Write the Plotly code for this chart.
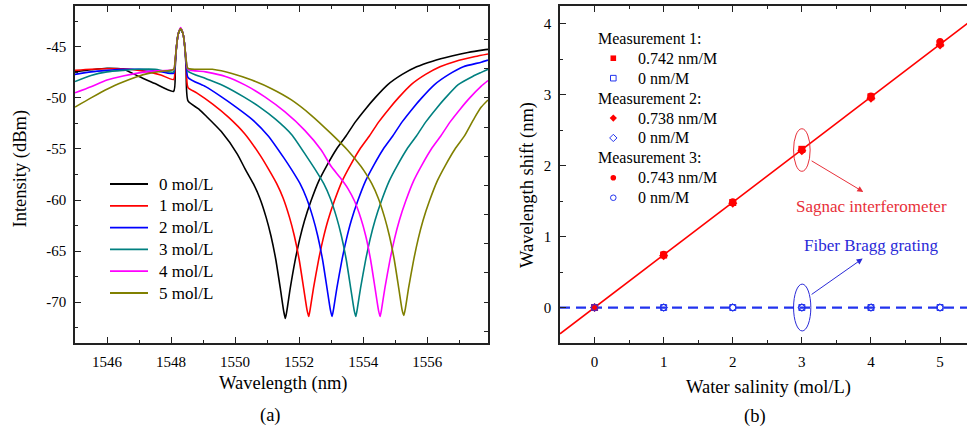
import plotly.graph_objects as go

FONT = "Liberation Serif, Times New Roman, serif"

# ---------------- (a) transmission spectra ----------------
wl_0 = [1545.0, 1545.5, 1546.0, 1546.5, 1547.0, 1547.5, 1548.08, 1548.13, 1548.17, 1548.22,
        1548.30, 1548.38, 1548.43, 1548.47, 1548.53, 1548.87, 1549.07, 1549.57, 1550.07, 1550.32,
        1550.57, 1550.77, 1550.97, 1551.12, 1551.27, 1551.42, 1551.52, 1551.57, 1551.62, 1551.72,
        1551.87, 1552.02, 1552.17, 1552.37, 1552.62, 1552.87, 1553.17, 1553.47, 1553.77, 1554.07,
        1554.37, 1554.77, 1555.22, 1555.67, 1556.17, 1556.77, 1557.27, 1557.77, 1557.9]
db_0 = [-47.45, -47.25, -47.1, -47.2, -47.9, -48.6, -49.35, -47.0, -45.0, -43.8,
        -43.2, -43.8, -45.0, -47.0, -50.3, -51.1, -51.7, -53.3, -55.5, -57.0,
        -58.4, -59.8, -61.7, -63.5, -65.8, -68.8, -70.9, -71.6, -70.8, -68.7,
        -66.0, -63.8, -62.0, -60.1, -58.1, -56.6, -55.0, -53.7, -52.3, -51.1,
        -50.0, -48.7, -47.7, -46.95, -46.4, -45.9, -45.55, -45.3, -45.25]

wl_1 = [1545.0, 1545.5, 1546.0, 1546.5, 1547.0, 1547.3, 1547.68, 1548.08, 1548.13, 1548.17,
        1548.22, 1548.30, 1548.38, 1548.43, 1548.47, 1548.53, 1548.8, 1549.3, 1549.8, 1550.3,
        1550.8, 1551.05, 1551.3, 1551.5, 1551.7, 1551.85, 1552.0, 1552.15, 1552.25, 1552.30,
        1552.35, 1552.45, 1552.6, 1552.75, 1552.9, 1553.1, 1553.35, 1553.6, 1553.9, 1554.2,
        1554.5, 1554.8, 1555.1, 1555.5, 1555.95, 1556.4, 1556.9, 1557.5, 1557.9]
db_1 = [-47.3, -47.2, -47.15, -47.15, -47.3, -47.45, -47.75, -48.2, -46.5, -45.0,
        -43.8, -43.2, -43.8, -45.0, -46.5, -49.0, -49.5, -50.6, -51.9, -53.5,
        -55.7, -57.0, -58.4, -59.8, -61.7, -63.5, -65.8, -68.8, -70.8, -71.4,
        -70.6, -68.6, -66.0, -63.8, -62.0, -60.1, -58.1, -56.6, -55.0, -53.7,
        -52.3, -51.1, -50.0, -48.7, -47.7, -46.95, -46.4, -45.95, -45.7]

wl_2 = [1545.0, 1545.5, 1546.0, 1546.5, 1547.0, 1547.5, 1548.08, 1548.13, 1548.17, 1548.22,
        1548.30, 1548.38, 1548.43, 1548.47, 1548.53, 1549.08, 1549.53, 1550.03, 1550.53, 1551.03,
        1551.53, 1551.78, 1552.03, 1552.23, 1552.43, 1552.58, 1552.73, 1552.88, 1552.98, 1553.03,
        1553.08, 1553.18, 1553.33, 1553.48, 1553.63, 1553.83, 1554.08, 1554.33, 1554.63, 1554.93,
        1555.23, 1555.53, 1555.83, 1556.23, 1556.68, 1557.13, 1557.69, 1557.9]
db_2 = [-47.7, -47.45, -47.3, -47.2, -47.2, -47.3, -47.6, -46.5, -45.0, -43.8,
        -43.2, -43.8, -45.0, -46.5, -48.0, -48.9, -49.8, -50.9, -52.1, -53.7,
        -55.9, -57.1, -58.4, -59.8, -61.7, -63.5, -65.8, -68.8, -70.8, -71.4,
        -70.6, -68.6, -66.0, -63.8, -62.0, -60.1, -58.1, -56.6, -55.0, -53.7,
        -52.3, -51.1, -50.0, -48.7, -47.7, -46.95, -46.5, -46.3]

wl_3 = [1545.0, 1545.5, 1546.0, 1546.5, 1547.0, 1547.5, 1548.08, 1548.13, 1548.17, 1548.22,
        1548.30, 1548.38, 1548.43, 1548.47, 1548.53, 1549.08, 1549.7, 1550.27, 1550.77, 1551.27,
        1551.77, 1552.27, 1552.52, 1552.77, 1552.97, 1553.17, 1553.32, 1553.47, 1553.62, 1553.72,
        1553.77, 1553.82, 1553.92, 1554.07, 1554.22, 1554.37, 1554.57, 1554.82, 1555.07, 1555.37,
        1555.67, 1555.97, 1556.27, 1556.57, 1556.97, 1557.42, 1557.69, 1557.9]
db_3 = [-48.4, -47.8, -47.45, -47.3, -47.2, -47.2, -47.45, -46.3, -45.0, -43.8,
        -43.2, -43.8, -45.0, -46.3, -47.4, -48.1, -48.9, -49.9, -50.9, -52.1,
        -53.6, -55.9, -57.1, -58.4, -59.8, -61.7, -63.5, -65.8, -68.8, -70.8,
        -71.4, -70.6, -68.6, -66.0, -63.8, -62.0, -60.1, -58.1, -56.6, -55.0,
        -53.7, -52.3, -51.1, -50.0, -48.7, -47.9, -47.5, -47.2]

wl_4 = [1545.0, 1545.5, 1546.0, 1546.5, 1547.0, 1547.5, 1548.08, 1548.13, 1548.17, 1548.22,
        1548.30, 1548.38, 1548.43, 1548.47, 1548.53, 1549.08, 1549.7, 1550.32, 1550.93, 1551.55,
        1552.17, 1552.69, 1553.0, 1553.28, 1553.53, 1553.73, 1553.93, 1554.08, 1554.23, 1554.38,
        1554.48, 1554.53, 1554.58, 1554.68, 1554.83, 1554.98, 1555.13, 1555.33, 1555.58, 1555.83,
        1556.13, 1556.43, 1556.73, 1557.03, 1557.33, 1557.69, 1557.9]
db_4 = [-49.5, -48.9, -48.25, -47.85, -47.55, -47.35, -47.2, -46.2, -45.0, -43.8,
        -43.1, -43.8, -45.0, -46.2, -47.2, -47.45, -47.9, -48.75, -49.9, -51.35,
        -53.15, -55.1, -56.7, -57.8, -58.9, -60.1, -61.8, -63.5, -65.8, -68.8,
        -70.8, -71.4, -70.6, -68.6, -66.0, -63.8, -62.0, -60.1, -58.1, -56.6,
        -55.0, -53.7, -52.3, -51.1, -50.0, -48.85, -48.3]

wl_5 = [1545.0, 1545.5, 1546.03, 1546.5, 1546.96, 1547.3, 1547.68, 1548.08, 1548.13, 1548.17,
        1548.22, 1548.30, 1548.38, 1548.43, 1548.47, 1548.53, 1549.29, 1549.9, 1550.52, 1551.14,
        1551.76, 1552.38, 1553.0, 1553.51, 1553.93, 1554.02, 1554.27, 1554.47, 1554.67, 1554.82,
        1554.97, 1555.12, 1555.22, 1555.27, 1555.32, 1555.42, 1555.57, 1555.72, 1555.87, 1556.07,
        1556.32, 1556.57, 1556.87, 1557.17, 1557.47, 1557.69, 1557.9]
db_5 = [-50.9, -50.0, -49.1, -48.45, -47.9, -47.6, -47.4, -47.2, -46.2, -45.0,
        -43.8, -43.2, -43.8, -45.0, -46.2, -47.1, -47.2, -47.6, -48.25, -49.1,
        -50.2, -51.7, -53.5, -55.1, -56.7, -57.1, -58.4, -59.8, -61.7, -63.5,
        -65.8, -68.8, -70.8, -71.3, -70.6, -68.6, -66.0, -63.8, -62.0, -60.1,
        -58.1, -56.6, -55.0, -53.7, -52.0, -50.9, -50.2]

spectra_wl = [wl_0, wl_1, wl_2, wl_3, wl_4, wl_5]
spectra_db = [db_0, db_1, db_2, db_3, db_4, db_5]
salinity_labels = ["0 mol/L", "1 mol/L", "2 mol/L", "3 mol/L", "4 mol/L", "5 mol/L"]
spectrum_colors = ["#000000", "#ff0000", "#0000ff", "#008080", "#ff00ff", "#808000"]

# ---------------- (b) wavelength shift vs salinity ----------------
salinity = [0, 1, 2, 3, 4, 5]
sagnac_m1 = [0.0, 0.74, 1.48, 2.23, 2.97, 3.72]
sagnac_m2 = [0.0, 0.73, 1.47, 2.21, 2.95, 3.70]
sagnac_m3 = [0.0, 0.75, 1.49, 2.22, 2.98, 3.75]
fbg_m1 = [0, 0, 0, 0, 0, 0]
fbg_m2 = [0, 0, 0, 0, 0, 0]
fbg_m3 = [0, 0, 0, 0, 0, 0]
sagnac_fit_x = [-0.5, 5.5]
sagnac_fit_y = [-0.37, 4.08]
fbg_fit_x = [-0.5, 5.5]
fbg_fit_y = [0, 0]
group_titles = ["Measurement 1:", "Measurement 2:", "Measurement 3:"]
sagnac_slopes = ["0.742 nm/M", "0.738 nm/M", "0.743 nm/M"]
fbg_slopes = ["0 nm/M", "0 nm/M", "0 nm/M"]
marker_shapes = ["square", "diamond", "circle"]

RED = "#ff0000"
BLUE = "#2233ee"
ANN_RED = "#e8303a"
ANN_BLUE = "#2a2ad8"

W, PLOT_TOP, PLOT_BOTTOM = 967, 6, 343


def px_x(x):
    return x / W


def px_y(y):
    return (PLOT_BOTTOM - y) / (PLOT_BOTTOM - PLOT_TOP)


fig = go.Figure()

for wl, db, name, col in zip(spectra_wl, spectra_db, salinity_labels, spectrum_colors):
    fig.add_trace(go.Scatter(x=wl, y=db, mode="lines", name=name, showlegend=False,
                             line=dict(color=col, width=1.6, shape="spline", smoothing=0.6),
                             xaxis="x", yaxis="y"))

# right-hand tick marks of panel (a)
fig.add_trace(go.Scatter(x=[], y=[], xaxis="x", yaxis="y3", showlegend=False))

# fitted lines
fig.add_trace(go.Scatter(x=sagnac_fit_x, y=sagnac_fit_y, mode="lines", showlegend=False,
                         line=dict(color=RED, width=1.6), xaxis="x2", yaxis="y2"))
fig.add_trace(go.Scatter(x=fbg_fit_x, y=fbg_fit_y, mode="lines", showlegend=False,
                         line=dict(color=BLUE, width=2.2, dash="10px,6px"),
                         xaxis="x2", yaxis="y2"))

sagnac_sets = [sagnac_m1, sagnac_m2, sagnac_m3]
fbg_sets = [fbg_m1, fbg_m2, fbg_m3]
for i in range(3):
    fig.add_trace(go.Scatter(x=salinity, y=sagnac_sets[i], mode="markers",
                             name=sagnac_slopes[i], showlegend=False,
                             marker=dict(symbol=marker_shapes[i], size=7, color=RED,
                                         line=dict(width=0)),
                             xaxis="x2", yaxis="y2"))
    fig.add_trace(go.Scatter(x=salinity, y=fbg_sets[i], mode="markers",
                             name=fbg_slopes[i], showlegend=False,
                             marker=dict(symbol=marker_shapes[i] + "-open", size=6,
                                         color=BLUE, line=dict(width=1)),
                             xaxis="x2", yaxis="y2"))

axis_common = dict(showgrid=False, zeroline=False, showline=True, linecolor="#222222",
                   linewidth=1.5, ticks="inside", ticklen=6, tickwidth=1.2,
                   tickcolor="#222222", tickfont=dict(size=15, family=FONT),
                   ticklabelstandoff=4)

fig.update_layout(
    width=W, height=429,
    margin=dict(l=0, r=0, t=PLOT_TOP, b=429 - PLOT_BOTTOM),
    paper_bgcolor="white", plot_bgcolor="white",
    font=dict(family=FONT, size=15, color="black"),
    showlegend=False,
    xaxis=dict(domain=[75 / W, 488 / W], range=[1545, 1557.9], anchor="y",
               tick0=1546, dtick=2, mirror="ticks",
               minor=dict(dtick=1, ticks="inside", ticklen=3, tickcolor="#222222"),
               **axis_common),
    yaxis=dict(domain=[0, 1], range=[-74, -41], anchor="x",
               tickvals=[-70, -65, -60, -55, -50, -45],
               ticktext=["-70", "-65", "-60", "-55", "-50", "-45"], mirror=True,
               minor=dict(tick0=-45, dtick=2.5, ticks="inside", ticklen=3,
                          tickcolor="#222222"),
               **axis_common),
    yaxis3=dict(overlaying="y", anchor="x", side="right", range=[-74, -41],
                showgrid=False, zeroline=False, showline=False, showticklabels=False,
                ticks="inside", ticklen=4, tickwidth=1.2, tickcolor="#222222",
                tickvals=[-44.29, -47.14, -50.0, -52.86, -55.71, -58.57, -61.43,
                          -64.29, -67.14, -70.0, -72.86]),
    xaxis2=dict(domain=[560 / W, 1.0], range=[-0.5, 5.39], anchor="y2",
                tick0=0, dtick=1, mirror="ticks",
                minor=dict(dtick=0.5, ticks="inside", ticklen=3, tickcolor="#222222"),
                **axis_common),
    yaxis2=dict(domain=[0, 1], range=[-0.5, 4.25], anchor="x2", tick0=0, dtick=1,
                mirror=False,
                minor=dict(dtick=0.5, ticks="inside", ticklen=3, tickcolor="#222222"),
                **axis_common),
)

annotations = [
    dict(text="Intensity (dBm)", x=px_x(20), y=px_y(168.5), textangle=-90, font=dict(size=18.5)),
    dict(text="Wavelength (nm)", x=px_x(282.5), y=px_y(383), font=dict(size=18.5)),
    dict(text="(a)", x=px_x(270), y=px_y(415), font=dict(size=18.5)),
    dict(text="Wavelength shift (nm)", x=px_x(527), y=px_y(185), textangle=-90,
         font=dict(size=18.5)),
    dict(text="Water salinity (mol/L)", x=px_x(768), y=px_y(387), font=dict(size=18.5)),
    dict(text="(b)", x=px_x(755), y=px_y(416.5), font=dict(size=18.5)),
]
for a in annotations:
    a.update(xref="paper", yref="paper", showarrow=False, xanchor="center", yanchor="middle")

annotations += [
    dict(text="Sagnac interferometer", x=4.01, y=1.42, xref="x2", yref="y2",
         showarrow=False, font=dict(size=17, color=ANN_RED)),
    dict(text="Fiber Bragg grating", x=4.01, y=0.88, xref="x2", yref="y2",
         showarrow=False, font=dict(size=17, color=ANN_BLUE)),
    dict(text="", x=3.89, y=1.63, ax=3.12, ay=2.08, xref="x2", yref="y2",
         axref="x2", ayref="y2", showarrow=True, arrowhead=2, arrowsize=1.2,
         arrowwidth=1, arrowcolor=ANN_RED),
    dict(text="", x=3.88, y=0.69, ax=3.12, ay=0.17, xref="x2", yref="y2",
         axref="x2", ayref="y2", showarrow=True, arrowhead=2, arrowsize=1.2,
         arrowwidth=1, arrowcolor=ANN_BLUE),
]

shapes = [
    dict(type="circle", xref="x2", yref="y2", x0=2.88, x1=3.12, y0=1.92, y1=2.52,
         line=dict(color=ANN_RED, width=1)),
    dict(type="circle", xref="x2", yref="y2", x0=2.88, x1=3.13, y0=-0.33, y1=0.33,
         line=dict(color=ANN_BLUE, width=1)),
]

# legend of panel (a): line samples and labels
for i, (name, col) in enumerate(zip(salinity_labels, spectrum_colors)):
    row_y = 184 + 21.8 * i
    shapes.append(dict(type="line", xref="paper", yref="paper",
                       x0=px_x(110), x1=px_x(148), y0=px_y(row_y), y1=px_y(row_y),
                       line=dict(color=col, width=1.8)))
    annotations.append(dict(text=name, x=px_x(157), y=px_y(row_y), xref="paper",
                            yref="paper", showarrow=False, xanchor="left",
                            yanchor="middle", font=dict(size=17)))


def legend_marker(symbol, cx, cy, color, filled):
    """Small legend glyph drawn in pixel units around a paper anchor."""
    r = 2.8
    common = dict(xref="paper", yref="paper", xsizemode="pixel", ysizemode="pixel",
                  xanchor=px_x(cx), yanchor=px_y(cy),
                  line=dict(color=color, width=0 if filled else 1),
                  fillcolor=color if filled else "rgba(0,0,0,0)")
    if symbol == "square":
        return dict(type="rect", x0=-r, x1=r, y0=-r, y1=r, **common)
    if symbol == "circle":
        return dict(type="circle", x0=-r, x1=r, y0=-r, y1=r, **common)
    d = r * 1.3
    return dict(type="path", path=f"M0,{d} L{d},0 L0,{-d} L{-d},0 Z", **common)


# legend of panel (b): group titles, glyphs and slope labels
row = 0
for i in range(3):
    y_title = 38.3 + 19.93 * row
    annotations.append(dict(text=group_titles[i], x=px_x(595.5), y=px_y(y_title),
                            xref="paper", yref="paper", showarrow=False,
                            xanchor="left", yanchor="middle", font=dict(size=16)))
    row += 1
    for label, color, filled in ((sagnac_slopes[i], RED, True), (fbg_slopes[i], BLUE, False)):
        y_item = 38.3 + 19.93 * row
        shapes.append(legend_marker(marker_shapes[i], 613.3, y_item, color, filled))
        annotations.append(dict(text=label, x=px_x(635.5), y=px_y(y_item),
                                xref="paper", yref="paper", showarrow=False,
                                xanchor="left", yanchor="middle", font=dict(size=16)))
        row += 1

fig.update_layout(annotations=annotations, shapes=shapes)

fig.write_html("out.html")
